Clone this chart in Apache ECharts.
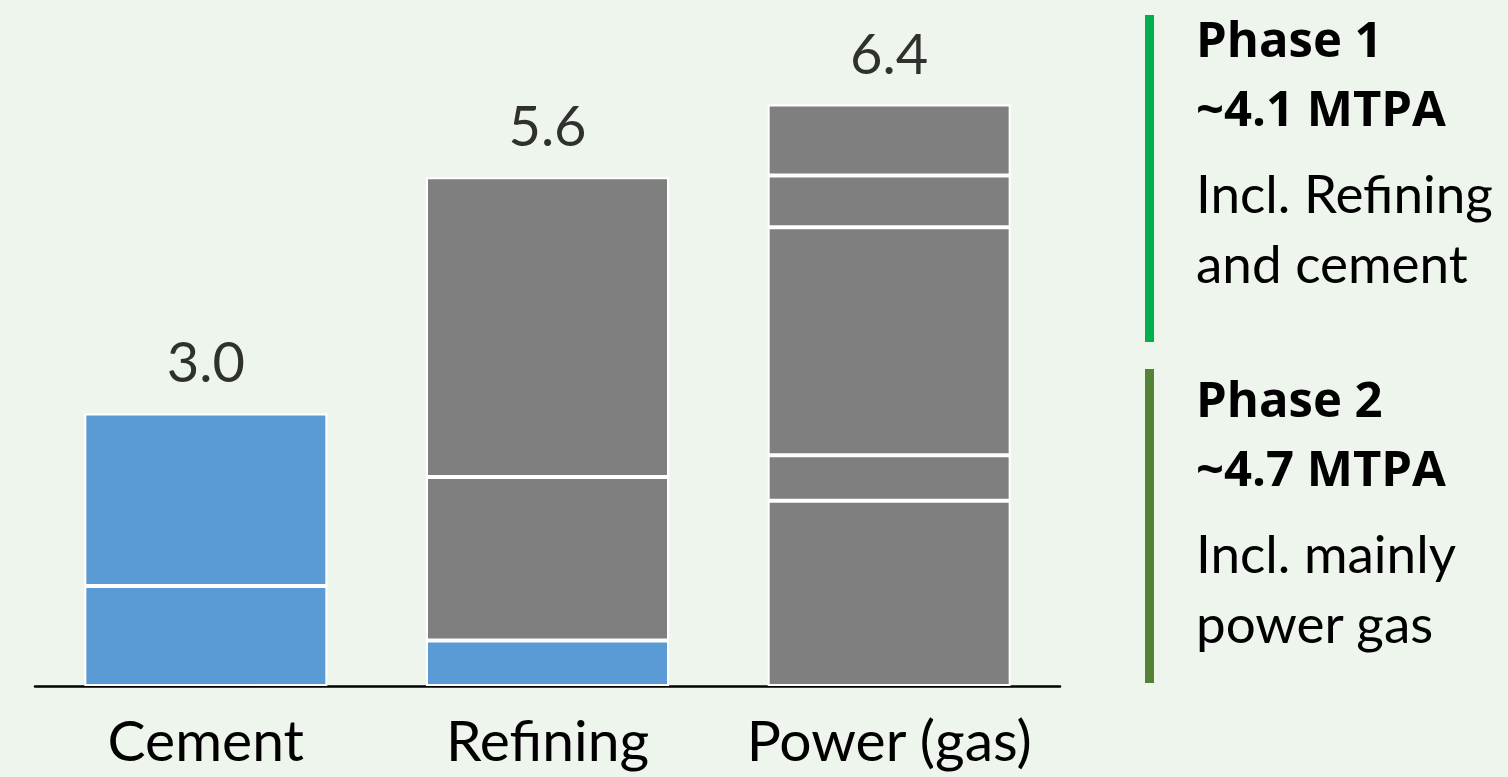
<!DOCTYPE html>
<html>
<head>
<meta charset="utf-8">
<script src="https://cdn.jsdelivr.net/npm/echarts@6/dist/echarts.min.js"></script>
<style>
  html, body { margin: 0; padding: 0; background: #EEF5EC; }
  #chart { width: 1508px; height: 777px; }
</style>
</head>
<body>
<div id="chart"></div>
<script>
// ---- data ----
const categories = ['Cement', 'Refining', 'Power (gas)'];
const segment1 = [1.1, 0.5, 2.04];
const segment2 = [1.9, 1.8, 0.5];
const segment3 = [null, 3.3, 2.51];
const segment4 = [null, null, 0.57];
const segment5 = [null, null, 0.78];
const totals = [3.0, 5.6, 6.4];
const phaseTitles = ['Phase 1', 'Phase 2'];
const phaseVolumes = ['~4.1 MTPA', '~4.7 MTPA'];
const phaseNotes = [['Incl. Refining', 'and cement'], ['Incl. mainly', 'power gas']];

// ---- styles ----
const BLUE = '#5B9BD5';
const GREY = '#7F7F7F';
const FONT = 'Lato, "Open Sans", sans-serif';
const BOLD_FONT = '"Open Sans", Lato, sans-serif';
// which (segment, category) cells are blue
const blueCells = [[0, 0], [0, 1], [1, 0]];
const isBlue = (s, c) => blueCells.some(p => p[0] === s && p[1] === c);

const segments = [segment1, segment2, segment3, segment4, segment5];
const barSeries = segments.map((seg, s) => ({
  type: 'bar',
  stack: 'total',
  barWidth: 243,
  silent: true,
  data: seg.map((v, c) => ({
    value: v,
    itemStyle: { color: isBlue(s, c) ? BLUE : GREY, borderColor: '#FFFFFF', borderWidth: 2 }
  }))
}));

const totalSeries = {
  type: 'scatter',
  symbolSize: 1,
  silent: true,
  itemStyle: { color: 'rgba(0,0,0,0)' },
  label: {
    show: true,
    position: 'top',
    distance: 24,
    fontFamily: FONT,
    fontSize: 56,
    color: '#000000',
    formatter: p => p.value.toFixed(1)
  },
  data: totals
};

// right-hand panel
const phaseColors = ['#00B050', '#548235'];
const panelTops = [0, 360];
const graphics = [];
panelTops.forEach((top, i) => {
  graphics.push({
    type: 'rect',
    silent: true,
    shape: { x: 1145, y: top + (i === 0 ? 15 : 9), width: 9, height: i === 0 ? 327 : 314 },
    style: { fill: phaseColors[i] }
  });
  const lines = [
    { text: phaseTitles[i], bold: true, base: 57 },
    { text: phaseVolumes[i], bold: true, base: 126 },
    { text: phaseNotes[i][0], bold: false, base: 213 },
    { text: phaseNotes[i][1], bold: false, base: 283 }
  ];
  lines.forEach(l => {
    const fs = l.bold ? 49 : 53;
    graphics.push({
      type: 'text',
      silent: true,
      x: 1196,
      y: top + l.base - Math.round(0.388 * fs),
      style: {
        text: l.text,
        fill: '#000000',
        font: (l.bold ? 'bold ' + fs + 'px ' + BOLD_FONT : fs + 'px ' + FONT),
        textAlign: 'left',
        textVerticalAlign: 'middle'
      }
    });
  });
});

const chart = echarts.init(document.getElementById('chart'), null, { renderer: 'svg' });
chart.setOption({
  backgroundColor: '#EEF5EC',
  animation: false,
  grid: { left: 35, right: 448, top: 50, bottom: 91 },
  xAxis: {
    type: 'category',
    data: categories,
    axisLine: { show: true, lineStyle: { color: '#000000', width: 2.5 } },
    axisTick: { show: false },
    axisLabel: { interval: 0, fontFamily: FONT, fontSize: 57, color: '#000000', margin: 24 }
  },
  yAxis: {
    type: 'value',
    min: 0,
    max: 7,
    show: false,
    splitLine: { show: false }
  },
  series: barSeries.concat([totalSeries]),
  graphic: graphics
});
</script>
</body>
</html>
